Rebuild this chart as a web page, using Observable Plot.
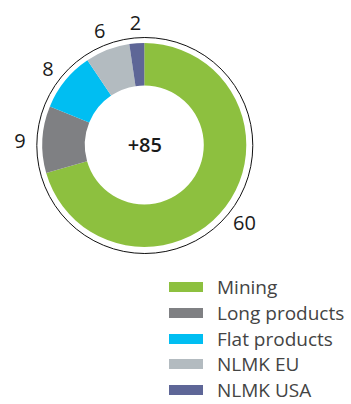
<!DOCTYPE html>
<html>
<head>
<meta charset="utf-8">
<script src="https://cdn.jsdelivr.net/npm/d3@7"></script>
<script src="https://cdn.jsdelivr.net/npm/@observablehq/plot@0.6"></script>
<style>
  html, body { margin: 0; padding: 0; background: #fff; }
  body { width: 351px; height: 404px; overflow: hidden; font-family: "Open Sans", sans-serif; position: relative; }
  #chart svg { display: block; }
  .legend { position: absolute; left: 169px; top: 278px; }
  .row { display: flex; align-items: center; height: 18px; margin-bottom: 7.8px; }
  .sw { width: 34px; height: 10px; margin-right: 14px; flex: none; }
  .lab { font-size: 19px; color: #444; line-height: 18px; white-space: nowrap; }
</style>
</head>
<body>
<div id="chart"></div>
<div class="legend" id="legend"></div>
<script>
const categories = ["Mining", "Long products", "Flat products", "NLMK EU", "NLMK USA"];
const values = [60, 9, 8, 6, 2];
const colors = ["#8DC03F", "#7F8083", "#00BEF2", "#B3BBC0", "#5E6697"];
const totalLabel = "+85";

const data = categories.map((c, i) => ({category: c, value: values[i], color: colors[i]}));
const pie = d3.pie().sort(null).value(d => d.value)(data);

const cx = 144.3, cy = 145, R = 102;
const innerFrac = 59.5 / 102;
const labelFrac = 1.225;

const labels = pie.map(p => {
  const a = (p.startAngle + p.endAngle) / 2;
  return {x: Math.sin(a) * labelFrac, y: Math.cos(a) * labelFrac, text: String(p.data.value)};
});

function donut(index, scales, values, dimensions) {
  const x0 = scales.x(0), y0 = scales.y(0);
  const r = scales.x(1) - x0;
  const arc = d3.arc().innerRadius(r * innerFrac).outerRadius(r);
  const g = d3.create("svg:g").attr("transform", `translate(${x0},${y0})`);
  g.selectAll("path").data(pie).join("path")
    .attr("d", arc)
    .attr("fill", d => d.data.color);
  return g.node();
}

const plot = Plot.plot({
  width: 351,
  height: 268,
  margin: 0,
  x: {type: "linear", domain: [-1, 1], range: [cx - R, cx + R], axis: null},
  y: {type: "linear", domain: [-1, 1], range: [cy + R, cy - R], axis: null},
  marks: [
    Plot.dot([0], {x: () => 0, y: () => 0, r: 108, stroke: "#111", strokeWidth: 1, fill: "none"}),
    donut,
    Plot.text(labels, {x: "x", y: "y", text: "text", dy: 3, fontSize: 20, fill: "#1a1a1a", fontFamily: "Open Sans"}),
    Plot.text([totalLabel], {x: () => 0, y: () => 0, text: d => d, fontSize: 20, fontWeight: 600, fill: "#1a1a1a", fontFamily: "Open Sans"})
  ]
});
document.getElementById("chart").appendChild(plot);

const legend = document.getElementById("legend");
data.forEach(d => {
  const row = document.createElement("div");
  row.className = "row";
  const sw = document.createElement("div");
  sw.className = "sw";
  sw.style.background = d.color;
  const lab = document.createElement("div");
  lab.className = "lab";
  lab.textContent = d.category;
  row.appendChild(sw);
  row.appendChild(lab);
  legend.appendChild(row);
});
</script>
</body>
</html>
